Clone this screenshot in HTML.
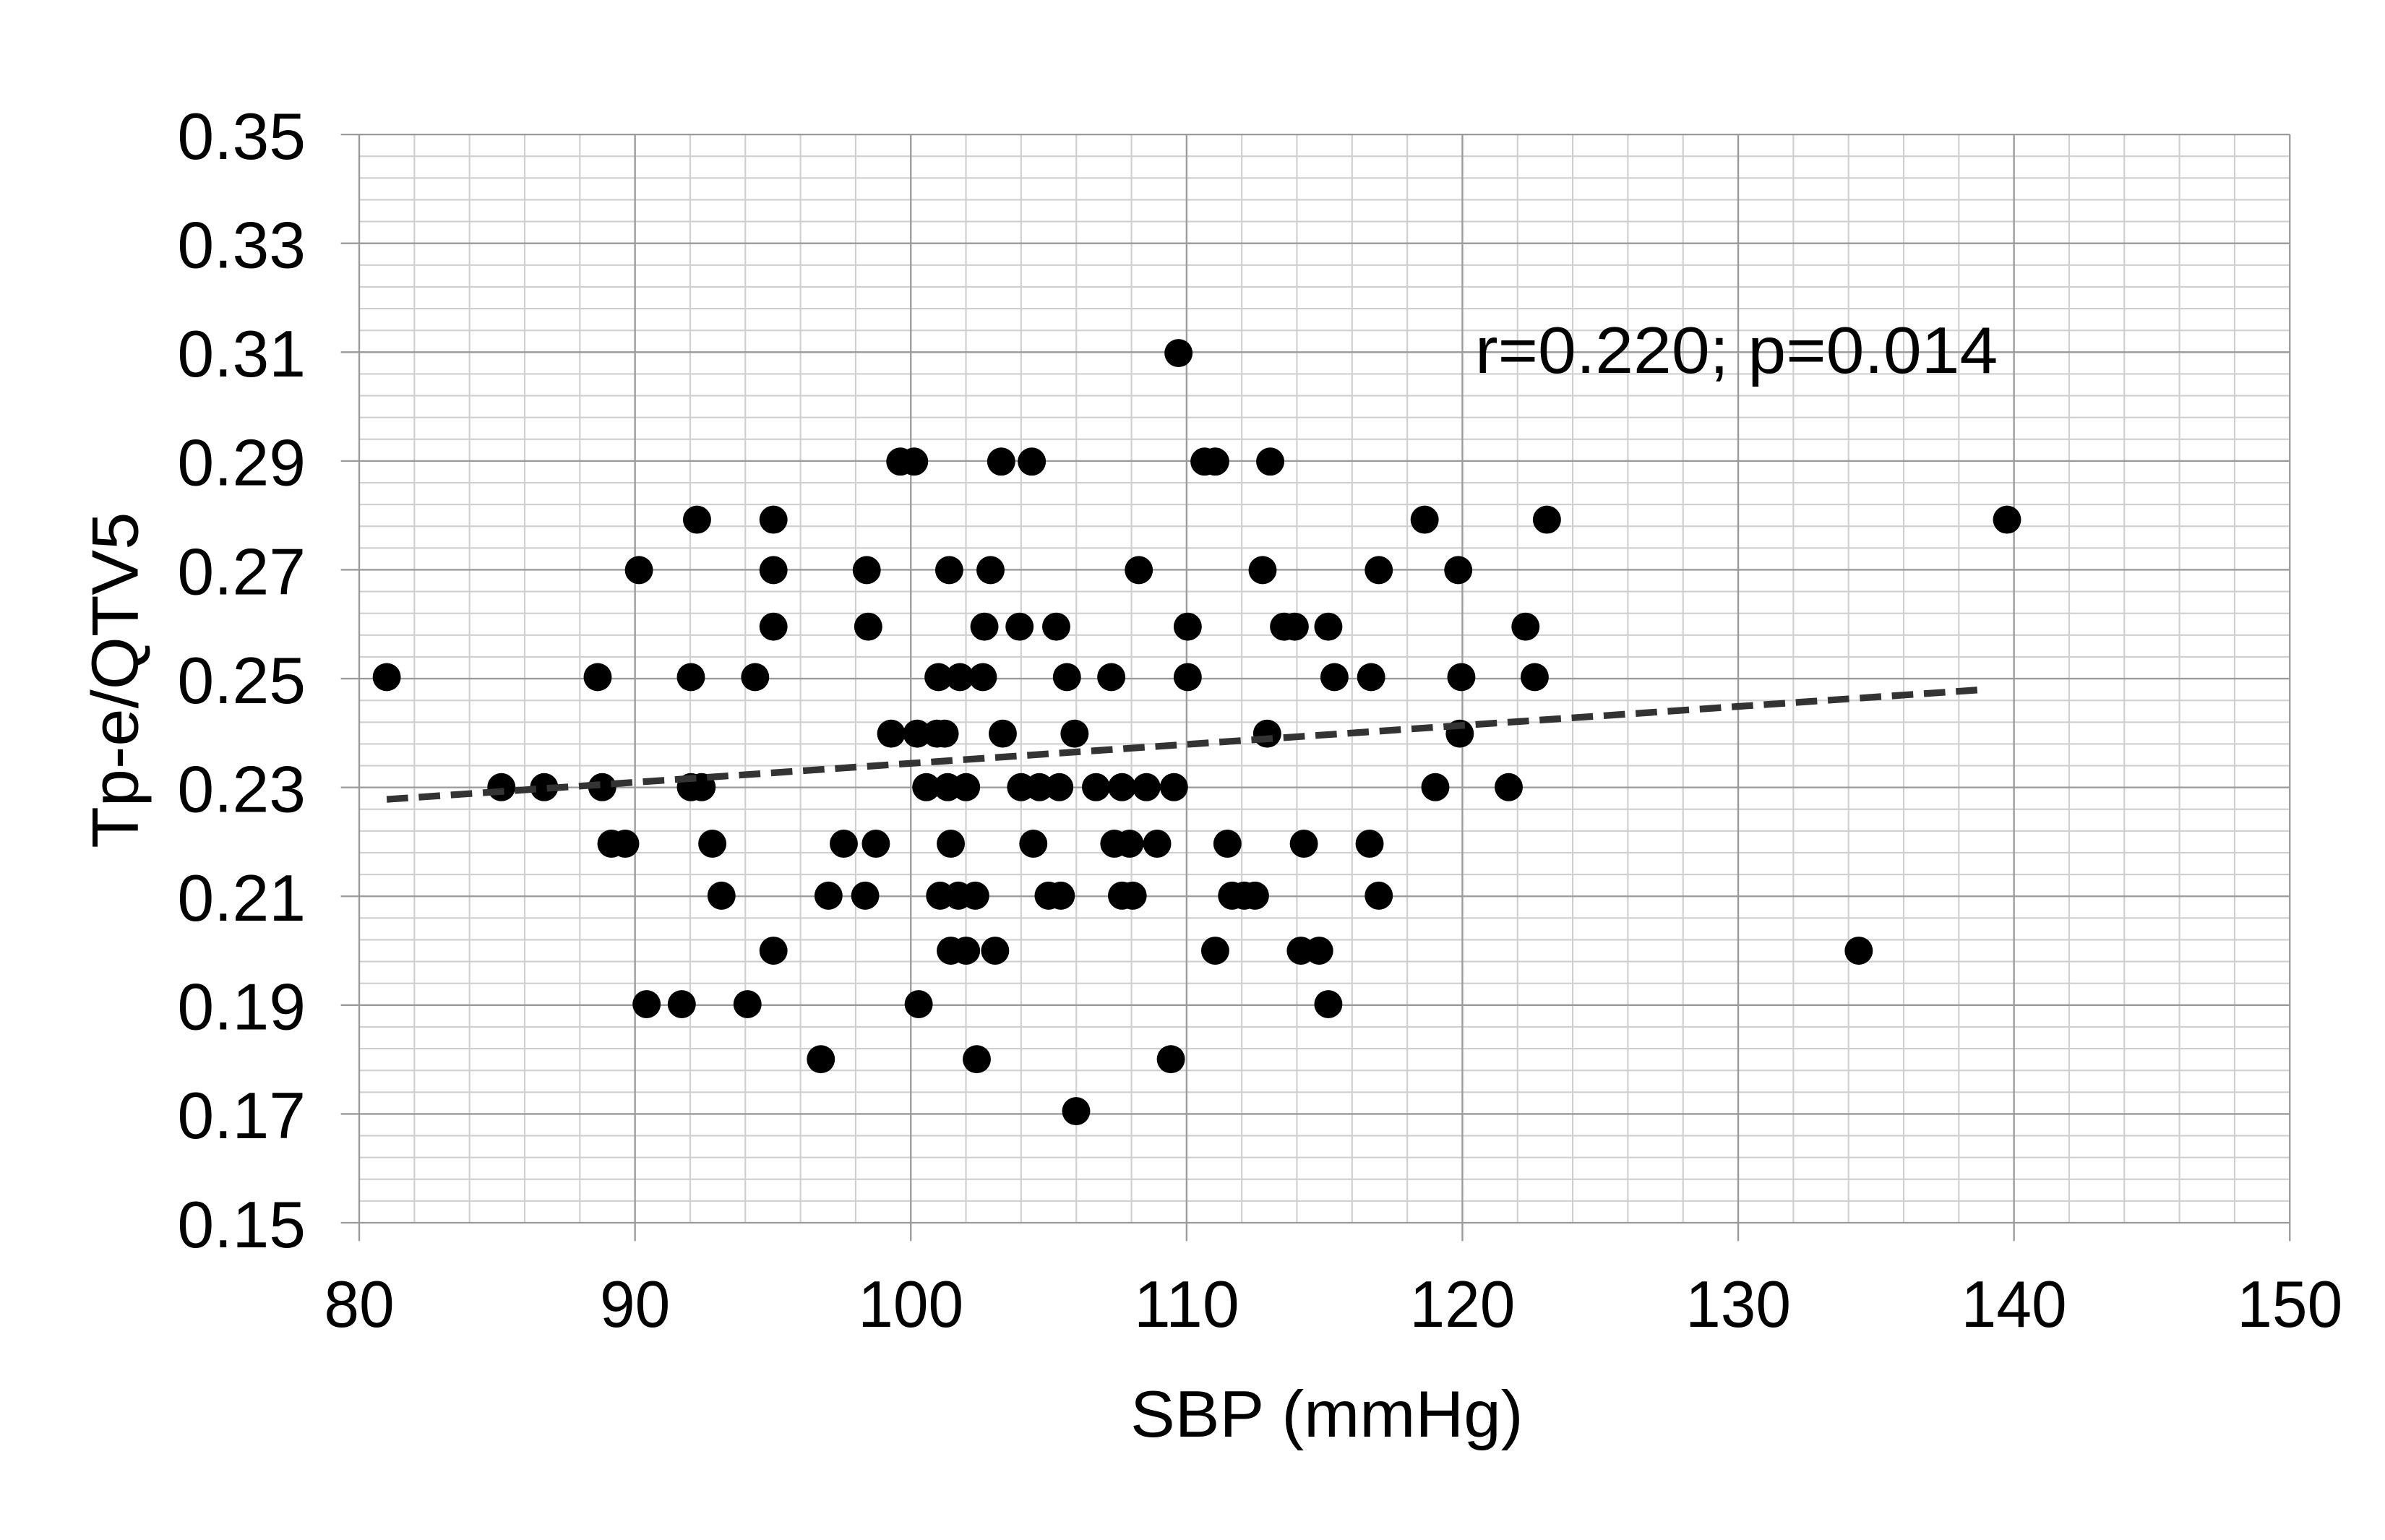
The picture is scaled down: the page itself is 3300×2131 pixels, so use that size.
<!DOCTYPE html>
<html><head><meta charset="utf-8"><style>html,body{margin:0;padding:0;background:#fff}svg{display:block}</style></head>
<body>
<svg width="3300" height="2131" viewBox="0 0 1560.28 1007.57" xmlns="http://www.w3.org/2000/svg" font-family="Liberation Sans, sans-serif">
<rect width="1560.28" height="1007.57" fill="#fff"/>
<g id="minor" stroke="#cfcfcf" stroke-width="1"></g>
<g id="major" stroke="#9a9a9a" stroke-width="1.1"></g>
<g id="pts" fill="#000"></g>
<line x1="253" y1="523" x2="1300" y2="451" stroke="#333" stroke-width="4.4" stroke-dasharray="14,7"/>
<g font-size="43" fill="#000" text-anchor="end" id="ylab"></g>
<g font-size="43" fill="#000" text-anchor="middle" id="xlab"></g>
<text x="965" y="244" font-size="43" textLength="342" lengthAdjust="spacingAndGlyphs">r=0.220; p=0.014</text>
<text x="868" y="940" font-size="43" text-anchor="middle" textLength="257" lengthAdjust="spacingAndGlyphs">SBP (mmHg)</text>
<text transform="translate(90,445) rotate(-90)" font-size="43" text-anchor="middle" textLength="220" lengthAdjust="spacingAndGlyphs">Tp-e/QTV5</text>
<script>
var ns="http://www.w3.org/2000/svg";
function el(p,t,a){var e=document.createElementNS(ns,t);for(var k in a)e.setAttribute(k,a[k]);document.getElementById(p).appendChild(e);return e;}
var x0=235,x1=1498,y0=88,y1=800;
for(var i=0;i<=35;i++){var x=x0+i*(x1-x0)/35;if(i%5)el("minor","line",{x1:x,y1:y0,x2:x,y2:y1});}
for(var j=0;j<=50;j++){var y=y0+j*(y1-y0)/50;if(j%5)el("minor","line",{x1:x0,y1:y,x2:x1,y2:y});}
for(var i=0;i<=7;i++){var x=x0+i*(x1-x0)/7;el("major","line",{x1:x,y1:y0,x2:x,y2:y1+12});
var s=String(80+i*10);var t=el("xlab","text",{x:x,y:868,textLength:s.length*23,lengthAdjust:"spacingAndGlyphs"});t.textContent=s;}
for(var j=0;j<=10;j++){var y=y0+j*(y1-y0)/10;el("major","line",{x1:x0-12,y1:y,x2:x1,y2:y});
var t=el("ylab","text",{x:200,y:y+16,textLength:84,lengthAdjust:"spacingAndGlyphs"});t.textContent=(0.35-j*0.02).toFixed(2);}
var P=[[253,443],[328,515],[356,515],[391,443],[394,515],[400,552],[409,552],[418,373],[423,657],[446,657],[452,443],[452,515],[456,340],[459,515],[466,552],[472,586],[489,657],[494,443],[506,340],[506,373],[506,410],[506,622],[537,693],[542,586],[552,552],[567,373],[568,410],[566,586],[573,552],[583,480],[589,302],[598,302],[600,480],[601,657],[606,515],[613,480],[614,443],[615,586],[618,480],[620,515],[621,373],[622,552],[622,622],[627,586],[628,443],[632,622],[632,515],[638,586],[639,693],[643,443],[644,410],[648,373],[651,622],[655,302],[656,480],[667,410],[668,515],[675,302],[676,552],[680,515],[686,586],[691,410],[693,515],[694,586],[698,443],[703,480],[704,727],[717,515],[727,443],[729,552],[734,515],[734,586],[739,552],[741,586],[745,373],[750,515],[757,552],[766,693],[768,515],[771,231],[777,410],[777,443],[788,302],[795,302],[795,622],[803,552],[806,586],[814,586],[821,586],[826,373],[829,480],[831,302],[840,410],[847,410],[851,622],[853,552],[863,622],[869,410],[869,657],[873,443],[897,443],[896,552],[902,373],[902,586],[932,340],[939,515],[954,373],[955,480],[956,443],[987,515],[998,410],[1004,443],[1012,340],[1216,622],[1313,340]];
P.forEach(function(p){el("pts","circle",{cx:p[0],cy:p[1],r:9.2});});
</script>
</svg>
</body></html>
